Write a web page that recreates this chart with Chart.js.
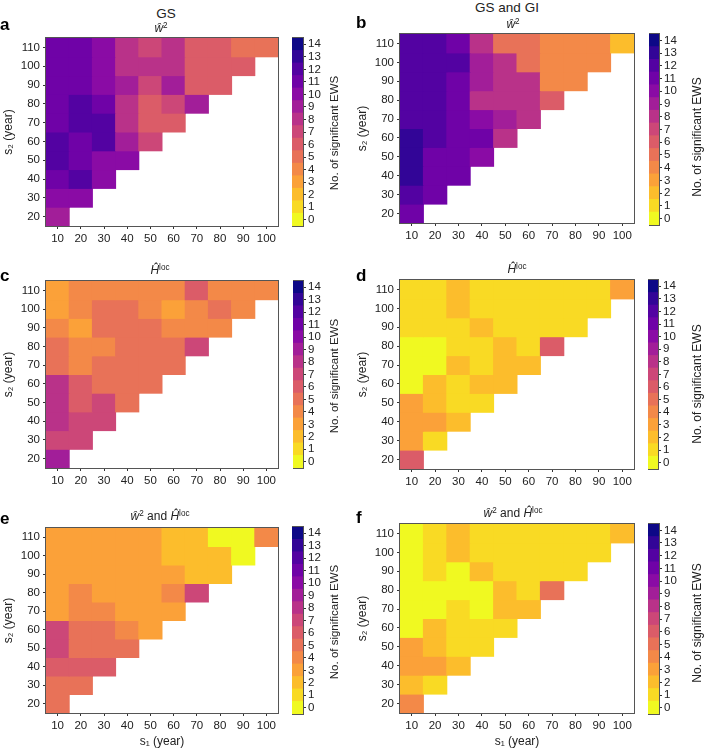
<!DOCTYPE html>
<html><head><meta charset="utf-8">
<script src="https://cdn.jsdelivr.net/npm/chart.js@4.4.0/dist/chart.umd.min.js"></script>
<style>
body{margin:0;background:#fff;width:704px;height:750px;position:relative;overflow:hidden;font-family:"Liberation Sans",Arial,sans-serif;color:#222}
canvas{position:absolute}
.t{position:absolute;transform:translate(-50%,-50%);white-space:nowrap;line-height:1}
.l{position:absolute;transform:translate(0,-50%);font-weight:bold;font-size:17px;line-height:1;color:#000}
.r{position:absolute;transform:translate(-50%,-50%) rotate(-90deg);white-space:nowrap;line-height:1}
sup{font-size:68%;vertical-align:0;position:relative;top:-0.5em}
</style></head><body>
<script>
// ---------- data ----------
const s1Labels = [10, 20, 30, 40, 50, 60, 70, 80, 90, 100];
const s2Values = [20, 30, 40, 50, 60, 70, 80, 90, 100, 110];
const s2Rows = [110, 100, 90, 80, 70, 60, 50, 40, 30, 20];
const countTicks = [0, 1, 2, 3, 4, 5, 6, 7, 8, 9, 10, 11, 12, 13, 14];

// rows: s2 = 110, 100, ..., 20 ; values for s1 = 10, 20, ... (only s1 < s2)
const gsW2 = [
  [11, 11, 10, 8, 7, 8, 6, 6, 5, 5],
  [11, 11, 10, 8, 8, 8, 6, 6, 6],
  [11, 11, 10, 9, 7, 9, 6, 6],
  [11, 12, 11, 8, 6, 7, 9],
  [11, 12, 12, 8, 6, 6],
  [12, 11, 12, 9, 7],
  [12, 11, 10, 10],
  [11, 12, 10],
  [10, 10],
  [9]
];
const gsgiW2 = [
  [12, 12, 11, 8, 5, 5, 4, 4, 4, 2],
  [12, 12, 12, 9, 8, 5, 4, 4, 4],
  [12, 12, 11, 9, 8, 8, 4, 4],
  [12, 12, 11, 8, 8, 8, 6],
  [12, 12, 11, 10, 9, 8],
  [13, 12, 11, 11, 8],
  [13, 11, 11, 10],
  [13, 11, 11],
  [12, 11],
  [11]
];
const gsH = [
  [3, 4, 4, 4, 4, 4, 6, 4, 4, 4],
  [3, 4, 5, 5, 4, 3, 4, 5, 4],
  [4, 3, 5, 5, 5, 4, 4, 4],
  [5, 4, 4, 5, 5, 5, 7],
  [5, 4, 5, 5, 5, 5],
  [8, 6, 5, 5, 5],
  [8, 6, 7, 5],
  [8, 7, 7],
  [7, 7],
  [9]
];
const gsgiH = [
  [1, 1, 2, 1, 1, 1, 1, 1, 1, 3],
  [1, 1, 2, 1, 1, 1, 1, 1, 1],
  [1, 1, 1, 2, 1, 1, 1, 1],
  [0, 0, 1, 1, 2, 1, 6],
  [0, 0, 2, 1, 2, 2],
  [0, 2, 1, 2, 2],
  [3, 2, 1, 1],
  [3, 3, 2],
  [3, 1],
  [6]
];
const gsBoth = [
  [3, 3, 3, 3, 3, 2, 2, 0, 0, 4],
  [3, 3, 3, 3, 3, 2, 2, 2, 0],
  [3, 3, 3, 3, 3, 3, 2, 2],
  [3, 4, 3, 3, 3, 4, 7],
  [3, 4, 4, 3, 3, 3],
  [7, 5, 5, 4, 3],
  [7, 5, 5, 5],
  [6, 6, 6],
  [5, 5],
  [5]
];
const gsgiBoth = [
  [0, 1, 2, 1, 1, 1, 1, 1, 1, 2],
  [0, 1, 2, 1, 1, 1, 1, 1, 1],
  [0, 1, 0, 2, 1, 1, 1, 1],
  [0, 0, 0, 0, 2, 1, 5],
  [0, 0, 1, 0, 2, 2],
  [0, 2, 1, 1, 1],
  [3, 2, 1, 1],
  [3, 3, 2],
  [2, 1],
  [4]
];

// ---------- styling ----------
const FONT = "'Liberation Sans', Arial, sans-serif";
Chart.defaults.font.family = FONT;
Chart.defaults.color = '#222';

const plasmaStops = ['#0d0887','#41049d','#6a00a8','#8f0da4','#b12a90','#cc4778','#e16462','#f2844b','#fca636','#fcce25','#f0f921'];
function hex(h){ return [parseInt(h.slice(1,3),16), parseInt(h.slice(3,5),16), parseInt(h.slice(5,7),16)]; }
function plasma(t){
  const x = Math.max(0, Math.min(1, t)) * 10;
  const i = Math.min(9, Math.floor(x)); const f = x - i;
  const a = hex(plasmaStops[i]), b = hex(plasmaStops[i+1]);
  const c = a.map((v,k)=>Math.round(v + (b[k]-v)*f));
  return 'rgb(' + c.join(',') + ')';
}
function countColor(v){ return plasma((14 - v) / 14); }

function addCanvas(left, top, w, h){
  const c = document.createElement('canvas');
  c.width = w; c.height = h;
  c.style.left = left + 'px'; c.style.top = top + 'px';
  c.style.width = w + 'px'; c.style.height = h + 'px';
  document.body.appendChild(c);
  return c;
}

const framePlugin = {
  id: 'frame',
  afterDatasetsDraw(chart){
    const a = chart.chartArea, ctx = chart.ctx;
    ctx.save();
    ctx.strokeStyle = '#555'; ctx.lineWidth = 1;
    ctx.strokeRect(Math.round(a.left) - 0.5, Math.round(a.top) - 0.5,
                   Math.round(a.right - a.left) + 1, Math.round(a.bottom - a.top) + 1);
    ctx.restore();
  }
};

const tickGrid = { display: true, drawOnChartArea: false, drawTicks: true, tickLength: 3, color: '#333', lineWidth: 1 };

function makeHeat(p, grid){
  const PADT = 12, PADR = 12, YW = 46, XB = p.xTitle ? 36 : 22;
  const c = addCanvas(p.L - YW, p.T - PADT, YW + p.W + PADR, PADT + p.H + XB);
  const datasets = s2Rows.map((s2, r) => {
    const row = grid[r];
    return {
      data: s1Labels.map((s, i) => i < row.length ? [s2 - 5, s2 + 5] : null),
      backgroundColor: s1Labels.map((s, i) => i < row.length ? countColor(row[i]) : 'rgba(0,0,0,0)'),
      borderWidth: 0, barPercentage: 1, categoryPercentage: 1, grouped: false, inflateAmount: 0.5
    };
  });
  new Chart(c, {
    type: 'bar',
    data: { labels: s1Labels.map(String), datasets },
    options: {
      responsive: false, animation: false, devicePixelRatio: 1,
      layout: { padding: { top: PADT, right: PADR, left: 0, bottom: 0 } },
      plugins: { legend: { display: false }, tooltip: { enabled: false } },
      scales: {
        x: {
          type: 'category', offset: true,
          grid: Object.assign({}, tickGrid, { offset: false }),
          border: { display: false },
          ticks: { font: { size: 11.5 }, color: '#222', padding: 3, maxRotation: 0, autoSkip: false },
          title: { display: !!p.xTitle, text: 's₁ (year)', font: { size: 12 }, color: '#222', padding: { top: 3, bottom: 0 } },
          afterFit(s){ s.height = XB; }
        },
        y: {
          type: 'linear', min: 15, max: 115,
          afterBuildTicks(s){ s.ticks = s2Values.map(v => ({ value: v })); },
          grid: tickGrid,
          border: { display: false },
          ticks: { font: { size: 11.5 }, color: '#222', padding: 3, autoSkip: false },
          title: { display: true, text: 's₂ (year)', font: { size: 12 }, color: '#222', padding: { top: 1, bottom: 0 } },
          afterFit(s){ s.width = YW; }
        }
      }
    },
    plugins: [framePlugin]
  });
}

function makeBar(p){
  const PAD = 12, AW = 40;
  const c = addCanvas(p.cbX, p.cbY - PAD, p.cbW + AW, p.cbH + 2 * PAD);
  const datasets = countTicks.map(v => ({
    data: [[v - 0.5, v + 0.5]], backgroundColor: countColor(v),
    borderWidth: 0, barPercentage: 1, categoryPercentage: 1, grouped: false, inflateAmount: 0.5
  }));
  new Chart(c, {
    type: 'bar',
    data: { labels: [''], datasets },
    options: {
      responsive: false, animation: false, devicePixelRatio: 1,
      layout: { padding: { top: PAD, bottom: PAD, left: 0, right: 0 } },
      plugins: { legend: { display: false }, tooltip: { enabled: false } },
      scales: {
        x: { display: false },
        y: {
          position: 'right', min: -0.5, max: 14.5,
          afterBuildTicks(s){ s.ticks = countTicks.map(v => ({ value: v })); },
          grid: tickGrid,
          border: { display: false },
          ticks: { font: { size: 11.5 }, color: '#222', padding: 2, autoSkip: false },
          afterFit(s){ s.width = AW; }
        }
      }
    },
    plugins: [framePlugin]
  });
}

const panels = [
  { L: 46,  T: 38,  W: 232, H: 188, cbX: 292, cbY: 38,  cbW: 11, cbH: 188, grid: gsW2 },
  { L: 400, T: 34,  W: 234, H: 189, cbX: 649, cbY: 34,  cbW: 10, cbH: 191, grid: gsgiW2 },
  { L: 46,  T: 281, W: 232, H: 187, cbX: 293, cbY: 281, cbW: 10, cbH: 187, grid: gsH },
  { L: 400, T: 280, W: 234, H: 189, cbX: 648, cbY: 280, cbW: 10, cbH: 189, grid: gsgiH },
  { L: 46,  T: 528, W: 232, H: 185, cbX: 292, cbY: 527, cbW: 11, cbH: 187, grid: gsBoth, xTitle: true },
  { L: 400, T: 524, W: 234, H: 189, cbX: 648, cbY: 524, cbW: 11, cbH: 190, grid: gsgiBoth, xTitle: true }
];
panels.forEach(p => { makeHeat(p, p.grid); makeBar(p); });

// ---------- text ----------
const W2 = '<i>ŵ</i><sup>2</sup>';
const HL = '<i>Ĥ</i><sup>loc</sup>';
const texts = [
  ['t', 166, 14, 13.5, 'GS'],
  ['t', 507, 8, 13.5, 'GS and GI'],
  ['l', 0, 24, 17, 'a'], ['l', 356, 22, 17, 'b'],
  ['l', 0, 275, 17, 'c'], ['l', 356, 275, 17, 'd'],
  ['l', 0, 518, 17, 'e'], ['l', 356, 517, 17, 'f'],
  ['t', 161, 28, 12, W2], ['t', 513, 24, 12, W2],
  ['t', 160, 270, 12, HL], ['t', 517, 269, 12, HL],
  ['t', 160, 516, 12, W2 + ' and ' + HL], ['t', 513, 513, 12, W2 + ' and ' + HL],
  ['r', 335, 133, 11.5, 'No. of significant EWS'], ['r', 697, 137, 12, 'No. of significant EWS'],
  ['r', 335, 376, 11.5, 'No. of significant EWS'], ['r', 697, 384, 12, 'No. of significant EWS'],
  ['r', 335, 622, 11.5, 'No. of significant EWS'], ['r', 697, 623, 12, 'No. of significant EWS']
];
texts.forEach(([cls, x, y, fs, html]) => {
  const d = document.createElement('div');
  d.className = cls; d.style.left = x + 'px'; d.style.top = y + 'px'; d.style.fontSize = fs + 'px';
  d.innerHTML = html;
  document.body.appendChild(d);
});
</script>
</body></html>
